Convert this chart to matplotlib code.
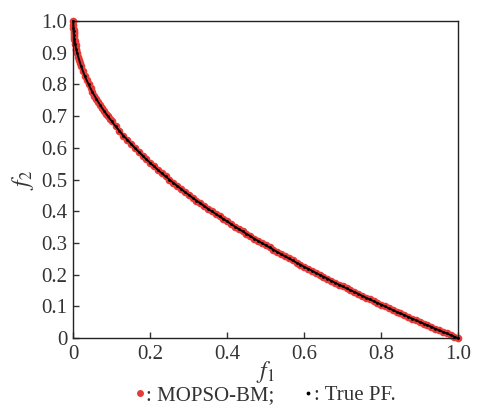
import matplotlib.pyplot as plt
from matplotlib.lines import Line2D

plt.rcParams['font.family'] = ['Liberation Serif', 'DejaVu Serif']
plt.rcParams['mathtext.fontset'] = 'stix'

# ---- data ----
true_f1 = [0.000, 0.0005, 0.001, 0.002, 0.003, 0.005, 0.0075,
           0.01, 0.02, 0.03, 0.04, 0.05, 0.06, 0.07, 0.08, 0.09, 0.10,
           0.11, 0.12, 0.13, 0.14, 0.15, 0.16, 0.17, 0.18, 0.19, 0.20,
           0.21, 0.22, 0.23, 0.24, 0.25, 0.26, 0.27, 0.28, 0.29, 0.30,
           0.31, 0.32, 0.33, 0.34, 0.35, 0.36, 0.37, 0.38, 0.39, 0.40,
           0.41, 0.42, 0.43, 0.44, 0.45, 0.46, 0.47, 0.48, 0.49, 0.50,
           0.51, 0.52, 0.53, 0.54, 0.55, 0.56, 0.57, 0.58, 0.59, 0.60,
           0.61, 0.62, 0.63, 0.64, 0.65, 0.66, 0.67, 0.68, 0.69, 0.70,
           0.71, 0.72, 0.73, 0.74, 0.75, 0.76, 0.77, 0.78, 0.79, 0.80,
           0.81, 0.82, 0.83, 0.84, 0.85, 0.86, 0.87, 0.88, 0.89, 0.90,
           0.91, 0.92, 0.93, 0.94, 0.95, 0.96, 0.97, 0.98, 0.99, 1.00]
true_f2 = [1.000, 0.978, 0.968, 0.955, 0.945, 0.929, 0.913,
           0.900, 0.859, 0.827, 0.800, 0.776, 0.755, 0.735, 0.717, 0.700, 0.684,
           0.668, 0.654, 0.639, 0.626, 0.613, 0.600, 0.588, 0.576, 0.564, 0.553,
           0.542, 0.531, 0.520, 0.510, 0.500, 0.490, 0.480, 0.471, 0.461, 0.452,
           0.443, 0.434, 0.426, 0.417, 0.408, 0.400, 0.392, 0.384, 0.376, 0.368,
           0.360, 0.352, 0.344, 0.337, 0.329, 0.322, 0.314, 0.307, 0.300, 0.293,
           0.286, 0.279, 0.272, 0.265, 0.258, 0.252, 0.245, 0.238, 0.232, 0.225,
           0.219, 0.213, 0.206, 0.200, 0.194, 0.188, 0.181, 0.175, 0.169, 0.163,
           0.157, 0.151, 0.146, 0.140, 0.134, 0.128, 0.122, 0.117, 0.111, 0.106,
           0.100, 0.094, 0.089, 0.083, 0.078, 0.073, 0.067, 0.062, 0.057, 0.051,
           0.046, 0.041, 0.036, 0.030, 0.025, 0.020, 0.015, 0.010, 0.005, 0.000]

mopso_f1 = [0.000, 0.0002, 0.0005, 0.0008, 0.0012, 0.0015, 0.002, 0.0025, 0.003,
            0.004, 0.005, 0.006, 0.0075, 0.0085, 0.010, 0.0125, 0.015, 0.0175,
            0.020, 0.025, 0.030, 0.035, 0.040, 0.045, 0.050, 0.055, 0.060, 0.065,
            0.070, 0.075, 0.080, 0.085, 0.090, 0.095, 0.100,
            0.11, 0.12, 0.13, 0.14, 0.15, 0.16, 0.17, 0.18, 0.19, 0.20,
            0.21, 0.22, 0.23, 0.24, 0.25, 0.26, 0.27, 0.28, 0.29, 0.30,
            0.31, 0.32, 0.33, 0.34, 0.35, 0.36, 0.37, 0.38, 0.39, 0.40,
            0.41, 0.42, 0.43, 0.44, 0.45, 0.46, 0.47, 0.48, 0.49, 0.50,
            0.51, 0.52, 0.53, 0.54, 0.55, 0.56, 0.57, 0.58, 0.59, 0.60,
            0.61, 0.62, 0.63, 0.64, 0.65, 0.66, 0.67, 0.68, 0.69, 0.70,
            0.71, 0.72, 0.73, 0.74, 0.75, 0.76, 0.77, 0.78, 0.79, 0.80,
            0.81, 0.82, 0.83, 0.84, 0.85, 0.86, 0.87, 0.88, 0.89, 0.90,
            0.91, 0.92, 0.93, 0.94, 0.95, 0.96, 0.97, 0.98, 0.99, 1.00]
mopso_f2 = [1.000, 0.986, 0.978, 0.972, 0.965, 0.961, 0.955, 0.950, 0.945,
            0.937, 0.929, 0.923, 0.913, 0.908, 0.900, 0.888, 0.878, 0.868,
            0.859, 0.842, 0.827, 0.813, 0.800, 0.788, 0.776, 0.765, 0.755, 0.745,
            0.735, 0.726, 0.717, 0.708, 0.700, 0.692, 0.684,
            0.668, 0.654, 0.639, 0.626, 0.613, 0.600, 0.588, 0.576, 0.564, 0.553,
            0.542, 0.531, 0.520, 0.510, 0.500, 0.490, 0.480, 0.471, 0.461, 0.452,
            0.443, 0.434, 0.426, 0.417, 0.408, 0.400, 0.392, 0.384, 0.376, 0.368,
            0.360, 0.352, 0.344, 0.337, 0.329, 0.322, 0.314, 0.307, 0.300, 0.293,
            0.286, 0.279, 0.272, 0.265, 0.258, 0.252, 0.245, 0.238, 0.232, 0.225,
            0.219, 0.213, 0.206, 0.200, 0.194, 0.188, 0.181, 0.175, 0.169, 0.163,
            0.157, 0.151, 0.146, 0.140, 0.134, 0.128, 0.122, 0.117, 0.111, 0.106,
            0.100, 0.094, 0.089, 0.083, 0.078, 0.073, 0.067, 0.062, 0.057, 0.051,
            0.046, 0.041, 0.036, 0.030, 0.025, 0.020, 0.015, 0.010, 0.005, 0.000]

x_ticks = [0, 0.2, 0.4, 0.6, 0.8, 1.0]
x_labels = ['0', '0.2', '0.4', '0.6', '0.8', '1.0']
y_ticks = [0, 0.1, 0.2, 0.3, 0.4, 0.5, 0.6, 0.7, 0.8, 0.9, 1.0]
y_labels = ['0', '0.1', '0.2', '0.3', '0.4', '0.5', '0.6', '0.7', '0.8', '0.9', '1.0']

red = '#e83a36'
txt = '#333333'

fig = plt.figure(figsize=(4.88, 4.05), dpi=100)
ax = fig.add_axes([0.150, 0.165, 0.789, 0.783])

ax.plot(mopso_f1, mopso_f2, 'o', color=red, markersize=5.5, markeredgewidth=0,
        clip_on=False, zorder=2)
ax.plot(true_f1, true_f2, '-', color='black', linewidth=1.3, zorder=3, clip_on=False)
ax.plot(true_f1, true_f2, '.', color='black', markersize=2, zorder=3, clip_on=False)

ax.set_xlim(0, 1)
ax.set_ylim(0, 1)
ax.set_xticks(x_ticks)
ax.set_xticklabels(x_labels)
ax.set_yticks(y_ticks)
ax.set_yticklabels(y_labels)
ax.tick_params(direction='in', length=4, width=1, labelsize=15, colors=txt, pad=4)
ax.tick_params(axis='x', pad=5)
for s in ax.spines.values():
    s.set_color('#222222')
    s.set_linewidth(1)

ax.set_xlabel('$f_1$', fontsize=17, color=txt, labelpad=-4)
ax.set_ylabel('$f_2$', fontsize=17, color=txt, labelpad=4)

handles = [Line2D([], [], marker='o', color=red, linestyle='none', markersize=5,
                  markeredgewidth=0),
           Line2D([], [], marker='.', color='black', linestyle='none', markersize=3.5)]
fig.legend(handles, [': MOPSO-BM;', ': True PF.'], loc='center',
           bbox_to_anchor=(0.545, 0.024), ncol=2, frameon=False, fontsize=15,
           handlelength=0.4, handletextpad=0.1, columnspacing=1.4, labelcolor=txt)

fig.savefig('out.png', dpi=100)
